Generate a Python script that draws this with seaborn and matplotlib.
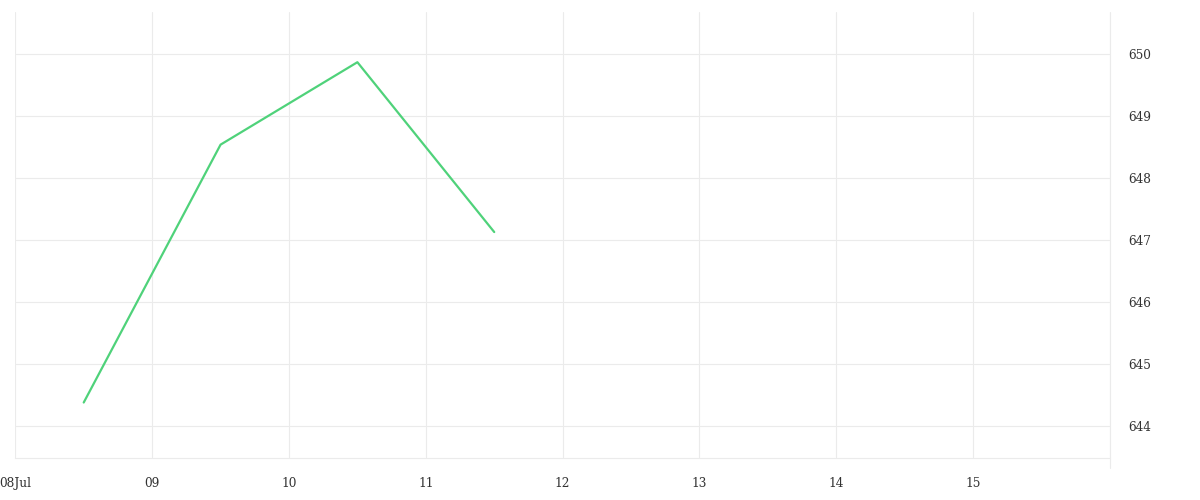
import matplotlib
matplotlib.use("Agg")
import matplotlib.pyplot as plt
import seaborn as sns
import pandas as pd

# Data
dates = ["2024-07-08 12:00", "2024-07-09 12:00", "2024-07-10 12:00", "2024-07-11 12:00"]
values = [644.38, 648.54, 649.87, 647.13]
x_tick_dates = ["2024-07-08", "2024-07-09", "2024-07-10", "2024-07-11", "2024-07-12",
                "2024-07-13", "2024-07-14", "2024-07-15", "2024-07-16"]
x_tick_labels = ["08Jul", "09", "10", "11", "12", "13", "14", "15", ""]
y_ticks = [644, 645, 646, 647, 648, 649, 650]

df = pd.DataFrame({"date": pd.to_datetime(dates), "value": values})

sns.set_style("white")
plt.rcParams["font.family"] = ["DejaVu Serif"]

grid_c = "#ebebeb"
fig = plt.figure(figsize=(12, 5), dpi=100)
ax = fig.add_axes([15.3 / 1200, 1 - 458.3 / 500, (1110 - 15.3) / 1200, (458.3 - 12) / 500])

sns.lineplot(data=df, x="date", y="value", ax=ax, color="#4fd27a", linewidth=1.6)

xmin, xmax = pd.Timestamp(x_tick_dates[0]), pd.Timestamp(x_tick_dates[-1])
ax.set_xlim(xmin, xmax)
ax.set_ylim(643.48, 650.68)

ax.set_xticks(pd.to_datetime(x_tick_dates))
ax.set_xticklabels(x_tick_labels)
ax.set_yticks(y_ticks)
ax.set_yticklabels([str(v) for v in y_ticks])

ax.yaxis.tick_right()
ax.grid(True, color=grid_c, linewidth=0.8)
ax.tick_params(axis="x", direction="out", length=7.2, width=0.8, color=grid_c,
               pad=6.5, labelsize=8.7, labelcolor="#333333")
ax.tick_params(axis="y", length=0, pad=13, labelsize=8.7, labelcolor="#333333")

# right boundary line extending below axis like the tick marks
ax.axvline(xmax, ymin=-10 / 446.3, ymax=1, color=grid_c, linewidth=0.8, clip_on=False)

for s in ["top", "left", "right"]:
    ax.spines[s].set_visible(False)
ax.spines["bottom"].set_color(grid_c)
ax.spines["bottom"].set_linewidth(0.8)

ax.set_xlabel("")
ax.set_ylabel("")

fig.savefig("out.png", dpi=100)
